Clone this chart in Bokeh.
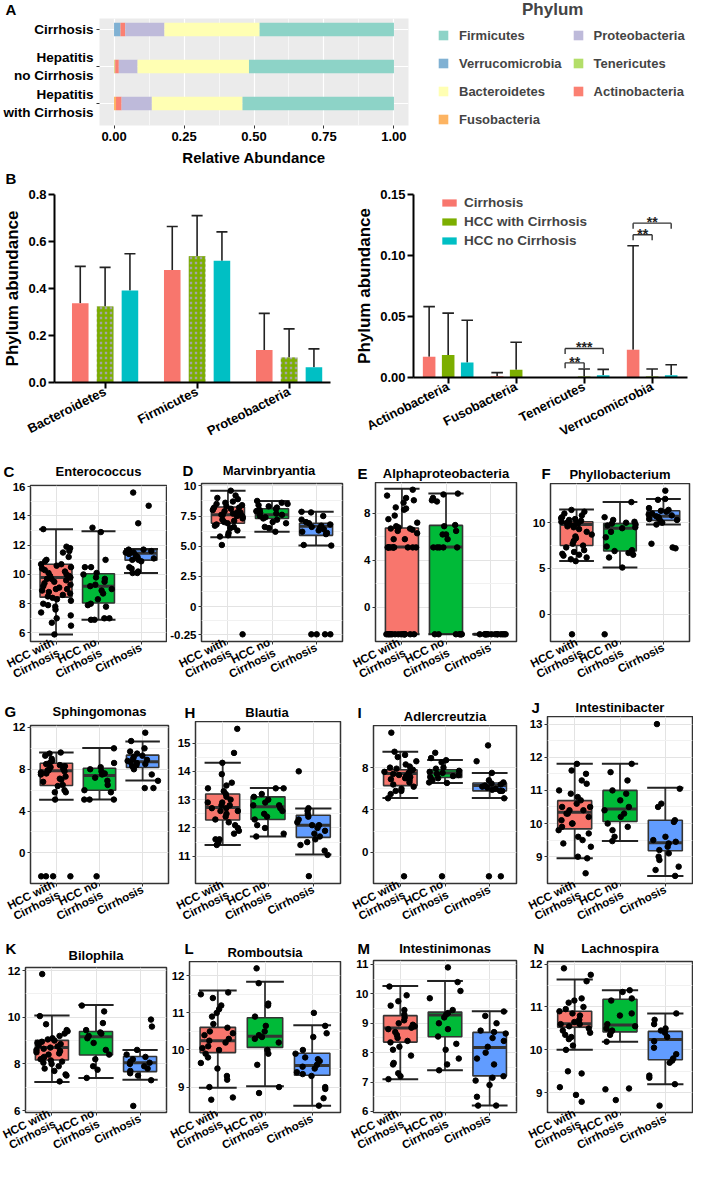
import math
from bokeh.plotting import figure
from bokeh.models import (ColumnDataSource, FixedTicker, Legend, LegendItem, Range1d,
                          NumeralTickFormatter)
from bokeh.layouts import column, row
from bokeh.transform import jitter
from bokeh.embed import file_html
from bokeh.resources import INLINE
from bokeh.core.properties import value

FONT = "Liberation Sans"
PAGE_W, PAGE_H = 693, 1168
REF_W, REF_H = 709, 1184

# ---------------- DATA ----------------
groups_A = ["Cirrhosis", "Hepatitis\nno Cirrhosis", "Hepatitis\nwith Cirrhosis"]
phyla_stack = ["Fusobacteria", "Tenericutes", "Verrucomicrobia", "Actinobacteria",
               "Proteobacteria", "Bacteroidetes", "Firmicutes"]
legend_order_A = ["Firmicutes", "Verrucomicrobia", "Bacteroidetes", "Fusobacteria",
                  "Proteobacteria", "Tenericutes", "Actinobacteria"]
fusobacteria_A = [0.000, 0.002, 0.007]
tenericutes_A = [0.000, 0.002, 0.000]
verrucomicrobia_A = [0.023, 0.000, 0.000]
actinobacteria_A = [0.017, 0.013, 0.020]
proteobacteria_A = [0.140, 0.067, 0.108]
bacteroidetes_A = [0.340, 0.398, 0.324]
firmicutes_A = [0.480, 0.518, 0.541]
phylum_colors = {"Firmicutes": "#8DD3C7", "Verrucomicrobia": "#80B1D3",
                 "Bacteroidetes": "#FFFFB3", "Fusobacteria": "#FDB462",
                 "Proteobacteria": "#BEBADA", "Tenericutes": "#B3DE69",
                 "Actinobacteria": "#FB8072"}
A_ticks = [0.0, 0.25, 0.5, 0.75, 1.0]

groups_B = ["Cirrhosis", "HCC with Cirrhosis", "HCC no Cirrhosis"]
phyla_B1 = ["Bacteroidetes", "Firmicutes", "Proteobacteria"]
b1_cirr_mean = [0.337, 0.479, 0.138]
b1_cirr_sd = [0.157, 0.185, 0.156]
b1_hccw_mean = [0.323, 0.537, 0.106]
b1_hccw_sd = [0.167, 0.173, 0.122]
b1_hccn_mean = [0.392, 0.518, 0.065]
b1_hccn_sd = [0.156, 0.123, 0.078]
phyla_B2 = ["Actinobacteria", "Fusobacteria", "Tenericutes", "Verrucomicrobia"]
b2_cirr_mean = [0.0171, 0.0010, 0.0000, 0.0228]
b2_cirr_sd = [0.0410, 0.0030, 0.0000, 0.0852]
b2_hccw_mean = [0.0185, 0.0064, 0.0008, 0.0008]
b2_hccw_sd = [0.0343, 0.0225, 0.0062, 0.0062]
b2_hccn_mean = [0.0123, 0.0000, 0.0019, 0.0019]
b2_hccn_sd = [0.0346, 0.0000, 0.0048, 0.0085]
B1_ticks = [0.0, 0.2, 0.4, 0.6, 0.8]
B2_ticks = [0.0, 0.05, 0.10, 0.15]
sig_phylum = ["Tenericutes", "Tenericutes", "Verrucomicrobia", "Verrucomicrobia"]
sig_from = ["Cirrhosis", "Cirrhosis", "Cirrhosis", "Cirrhosis"]
sig_to = ["HCC with Cirrhosis", "HCC no Cirrhosis", "HCC with Cirrhosis", "HCC no Cirrhosis"]
sig_y = [0.0120, 0.0238, 0.1170, 0.1265]
sig_text = ["**", "***", "**", "**"]

box_groups = ["HCC with\nCirrhosis", "HCC no\nCirrhosis", "Cirrhosis"]
box_colors = ["#F8766D", "#00BA38", "#619CFF"]

ent_hwc = [13.1, 11.9, 11.8, 11.6, 11.5, 11.2, 11.0, 10.9, 10.7, 10.7, 10.6, 10.5, 10.4, 10.3, 10.2,
           10.1, 10.0, 9.9, 9.9, 9.8, 9.8, 9.7, 9.7, 9.6, 9.5, 9.4, 9.3, 9.2, 9.1, 9.0, 9.0, 8.9,
           8.8, 8.7, 8.6, 8.5, 8.4, 8.3, 8.2, 8.0, 7.9, 7.8, 7.6, 7.4, 7.2, 7.0, 6.7, 6.5, 5.9]
ent_hnc = [13.2, 12.9, 11.0, 10.5, 10.5, 10.1, 10.0, 9.8, 9.7, 9.5, 9.3, 9.2, 9.0, 8.9, 8.7, 8.3,
           8.0, 7.9, 7.8, 7.0, 7.0, 6.9, 6.9]
ent_cir = [15.6, 14.7, 13.5, 11.7, 11.7, 11.6, 11.6, 11.5, 11.5, 11.4, 11.3, 11.2, 11.1, 11.0, 11.0,
           10.9, 10.5, 10.4, 10.2, 10.1, 10.1]
ent_box = [[5.9, 8.45, 9.8, 10.7, 13.1], [6.9, 8.05, 9.2, 10.05, 12.95], [10.1, 10.98, 11.45, 11.7, 11.75]]

mar_hwc = [9.6, 9.2, 9.0, 8.9, 8.7, 8.6, 8.5, 8.4, 8.3, 8.2, 8.2, 8.1, 8.0, 7.9, 7.8, 7.8, 7.7, 7.6,
           7.6, 7.5, 7.5, 7.4, 7.3, 7.2, 7.1, 7.0, 6.9, 6.8, 6.7, 6.6, 6.5, 6.3, 6.1, 5.9, 5.8, 5.1, -2.3]
mar_hnc = [8.75, 8.6, 8.5, 8.4, 8.3, 8.2, 8.1, 8.0, 7.9, 7.8, 7.7, 7.6, 7.5, 7.4, 7.3, 7.2, 7.0,
           6.9, 6.6, 6.5, 6.2]
mar_cir = [7.85, 7.8, 7.5, 7.2, 7.0, 6.9, 6.8, 6.7, 6.6, 6.5, 6.4, 6.3, 6.2, 6.1, 6.0, 5.1, 5.05,
           -2.3, -2.3, -2.3, -2.3]
mar_box = [[5.75, 6.9, 7.6, 8.25, 9.6], [6.2, 7.3, 7.6, 8.1, 8.75], [5.05, 5.9, 6.65, 6.9, 7.85]]

alp_hwc = [10.0, 9.5, 9.3, 9.1, 8.9, 8.5, 8.4, 8.3, 7.8, 7.5, 7.2, 6.9, 6.8, 6.7, 6.7, 6.6, 6.5,
           6.3, 5.8, 5.8, 5.1, 5.1, 5.1, 5.1, 5.1, 5.1, 5.1, 5.1, 5.1, 5.1, -2.28, -2.28, -2.28,
           -2.28, -2.28, -2.28, -2.28, -2.28, -2.28, -2.28, -2.28, -2.28, -2.28, -2.28]
alp_hnc = [9.67, 9.6, 9.3, 9.1, 9.0, 7.0, 6.9, 6.5, 6.2, 6.2, 5.8, 5.1, 5.1, 5.1, 5.1, 5.1,
           -2.28, -2.28, -2.28, -2.28, -2.28, -2.28, -2.28]
alp_cir = [-2.28, -2.28, -2.28, -2.28, -2.28, -2.28, -2.28, -2.28, -2.28, -2.28, -2.28, -2.28,
           -2.28, -2.28]
alp_box = [[-2.28, -2.28, 5.14, 6.75, 10.08], [-2.28, -2.28, 5.14, 6.97, 9.67], [-2.28, -2.28, -2.28, -2.28, -2.28]]

phy_hwc = [11.4, 11.2, 11.0, 10.8, 10.6, 10.5, 10.4, 10.3, 10.2, 10.1, 10.0, 10.0, 9.9, 9.8, 9.7,
           9.6, 9.5, 9.3, 9.0, 8.7, 8.5, 8.3, 8.0, 7.7, 7.5, 7.3, 7.0, 6.8, 6.6, 6.5, 6.4, 6.2, 6.0,
           5.8, -2.2]
phy_hnc = [12.25, 10.6, 10.3, 10.1, 10.0, 9.9, 9.8, 9.7, 9.5, 9.4, 9.0, 8.4, 7.4, 7.0, 6.9, 6.7,
           6.5, 6.2, 5.1, -2.2]
phy_cir = [13.5, 12.6, 12.5, 11.6, 11.4, 11.3, 11.2, 11.0, 10.9, 10.8, 10.7, 10.6, 10.5, 10.4,
           10.3, 10.2, 10.0, 9.8, 7.7, 7.3, 7.2]
phy_box = [[5.82, 7.5, 9.8, 10.1, 11.43], [5.1, 6.9, 9.4, 9.9, 12.25], [9.8, 10.25, 10.7, 11.3, 12.6]]

sph_hwc = [9.6, 9.5, 9.3, 9.0, 8.8, 8.6, 8.5, 8.4, 8.3, 8.2, 8.1, 8.0, 7.9, 7.9, 7.8, 7.7, 7.6,
           7.5, 7.3, 7.1, 7.0, 6.8, 6.5, 6.4, 6.0, 5.8, 5.8, 5.1, -2.24, -2.24, -2.24, -2.24]
sph_hnc = [10.0, 8.6, 8.2, 8.0, 7.8, 7.6, 7.5, 7.2, 6.9, 6.5, 6.0, 5.8, 5.1, 5.1, 5.1, -2.24]
sph_cir = [11.5, 10.7, 10.0, 9.7, 9.5, 9.3, 9.2, 9.0, 8.9, 8.8, 8.7, 8.6, 8.5, 8.4, 8.3, 8.0, 7.5,
           6.9, 6.2, 6.2]
sph_box = [[5.08, 6.45, 7.86, 8.57, 9.6], [5.1, 6.0, 7.4, 8.1, 10.04], [6.92, 8.17, 8.73, 9.35, 10.66]]

bla_hwc = [15.5, 14.65, 14.3, 13.9, 13.6, 13.5, 13.4, 13.3, 13.2, 13.1, 13.0, 12.9, 12.9, 12.8,
           12.8, 12.7, 12.7, 12.6, 12.6, 12.5, 12.4, 12.3, 12.2, 12.1, 12.0, 11.9, 11.8, 11.6,
           11.6, 11.5, 11.4]
bla_hnc = [13.4, 13.4, 13.2, 13.1, 13.0, 12.9, 12.8, 12.8, 12.7, 12.6, 12.5, 12.4, 12.3, 12.1,
           12.0, 11.8, 11.7]
bla_cir = [14.0, 12.7, 12.6, 12.5, 12.4, 12.3, 12.2, 12.1, 12.1, 12.0, 11.9, 11.8, 11.7, 11.6,
           11.5, 11.4, 11.2, 11.05, 10.3]
bla_box = [[11.4, 12.28, 12.72, 13.2, 14.3], [11.7, 12.3, 12.75, 13.1, 13.41], [11.06, 11.67, 12.1, 12.45, 12.69]]

adl_hwc = [11.3, 9.5, 9.2, 9.0, 8.6, 8.3, 8.1, 8.0, 7.9, 7.8, 7.7, 7.6, 7.5, 7.4, 7.3, 7.2, 7.1,
           7.0, 6.9, 6.8, 6.6, 6.4, 6.2, 6.0, 5.8, 5.8, 5.5, 5.1, -2.27]
adl_hnc = [9.4, 8.9, 8.7, 8.5, 8.0, 7.9, 7.7, 7.6, 7.5, 7.4, 7.3, 7.2, 7.1, 7.0, 6.8, 6.6, 6.55, -2.27]
adl_cir = [10.1, 8.6, 7.5, 6.8, 6.6, 6.5, 6.4, 6.3, 6.2, 6.1, 6.0, 5.9, 5.8, 5.8, 5.1, -2.27, -2.27]
adl_box = [[5.13, 6.3, 7.45, 7.8, 9.5], [6.55, 7.06, 7.5, 7.8, 8.72], [5.13, 5.8, 6.3, 6.55, 7.5]]

inb_hwc = [11.8, 11.6, 11.5, 11.3, 11.2, 11.0, 10.9, 10.8, 10.7, 10.6, 10.5, 10.5, 10.4, 10.4,
           10.3, 10.3, 10.2, 10.1, 10.0, 10.0, 9.9, 9.8, 9.7, 9.6, 9.5, 9.4, 9.3, 9.0, 8.95, 8.5]
inb_hnc = [11.8, 11.55, 11.3, 11.0, 10.9, 10.7, 10.5, 10.4, 10.3, 10.2, 10.0, 9.9, 9.8, 9.6, 9.47]
inb_cir = [13.0, 11.05, 10.6, 10.5, 10.1, 10.05, 9.6, 9.5, 9.45, 9.4, 9.3, 9.2, 9.1, 9.0, 8.9,
           8.7, 8.6, 8.42]
inb_box = [[8.95, 9.84, 10.34, 10.69, 11.8], [9.47, 10.06, 10.44, 11.0, 11.8], [8.42, 9.18, 9.42, 10.1, 11.08]]

bil_hwc = [11.85, 10.05, 9.7, 9.45, 9.4, 9.3, 9.2, 9.1, 9.05, 9.0, 8.95, 8.9, 8.85, 8.8, 8.75,
           8.7, 8.65, 8.6, 8.55, 8.5, 8.45, 8.4, 8.3, 8.25, 8.2, 8.15, 8.1, 8.05, 8.0, 7.9, 7.8,
           7.7, 7.55, 7.5, 7.25]
bil_hnc = [10.5, 10.25, 9.75, 9.45, 9.35, 9.3, 9.2, 9.1, 8.9, 8.6, 8.4, 8.2, 7.9, 7.75, 7.4]
bil_cir = [9.9, 9.6, 8.6, 8.4, 8.3, 8.2, 8.1, 8.05, 8.0, 7.9, 7.8, 7.7, 7.6, 7.5, 7.3, 6.2]
bil_box = [[7.23, 8.17, 8.7, 9.01, 10.08], [7.4, 8.38, 9.16, 9.39, 10.52], [7.32, 7.67, 8.05, 8.32, 8.6]]

rom_hwc = [11.55, 11.5, 11.4, 11.2, 11.1, 11.0, 10.9, 10.7, 10.6, 10.5, 10.45, 10.4, 10.3, 10.25,
           10.2, 10.1, 10.05, 10.0, 9.9, 9.8, 9.65, 9.5, 9.3, 9.2, 9.0, 8.72, 8.66]
rom_hnc = [12.2, 11.8, 11.25, 11.2, 10.9, 10.65, 10.5, 10.4, 10.35, 10.3, 10.2, 10.0, 9.9, 9.6,
           9.0, 8.84]
rom_cir = [11.0, 10.65, 10.45, 10.35, 10.0, 9.9, 9.8, 9.75, 9.7, 9.6, 9.55, 9.5, 9.4, 9.35, 9.3,
           9.0, 8.95, 8.7, 8.5]
rom_box = [[8.98, 9.93, 10.25, 10.61, 11.6], [9.02, 10.07, 10.37, 10.87, 11.84], [8.5, 9.32, 9.58, 9.91, 10.67]]

inm_hwc = [10.25, 9.95, 9.75, 9.6, 9.45, 9.3, 9.2, 9.1, 9.0, 8.95, 8.9, 8.85, 8.8, 8.7, 8.6, 8.5,
           8.4, 8.35, 8.2, 8.1, 7.9, 7.65, 7.6, 7.3, 7.2, 7.1]
inm_hnc = [10.9, 10.4, 10.1, 9.85, 9.45, 9.35, 9.3, 9.2, 9.0, 8.8, 8.55, 8.3, 8.1, 7.8, 7.6, 7.4]
inm_cir = [9.4, 9.25, 9.0, 8.75, 8.7, 8.65, 8.5, 8.4, 8.2, 8.0, 7.8, 7.6, 7.2, 7.15, 7.05, 6.9,
           6.5, 6.2, 6.2]
inm_box = [[7.1, 8.36, 8.84, 9.26, 10.27], [7.4, 8.54, 9.28, 9.38, 10.44], [6.2, 7.21, 8.18, 8.69, 9.41]]

lac_hwc = [11.9, 11.75, 11.6, 11.2, 11.15, 11.1, 11.0, 10.95, 10.9, 10.85, 10.8, 10.7, 10.65,
           10.6, 10.6, 10.55, 10.5, 10.45, 10.4, 10.35, 10.3, 10.25, 10.1, 10.0, 9.5, 9.45, 9.13,
           8.95, 8.79]
lac_hnc = [11.39, 11.35, 11.2, 11.15, 10.85, 10.8, 10.6, 10.55, 10.5, 10.45, 10.42, 10.35, 10.19,
           9.1, 9.08, 8.83]
lac_cir = [10.85, 10.7, 10.6, 10.5, 10.45, 10.4, 10.3, 10.2, 10.05, 9.9, 9.8, 9.75, 9.7, 9.4,
           9.35, 9.2, 8.7]
lac_box = [[10.0, 10.53, 10.61, 10.9, 11.64], [10.19, 10.42, 10.58, 11.18, 11.39], [9.2, 9.77, 10.24, 10.43, 10.85]]

ticks_C = [6, 8, 10, 12, 14, 16]
ticks_D = [-2.35, 0, 2.5, 5, 7.5, 10]
labels_D = ["-0.25", "0", "2.5", "5.0", "7.5", "10"]
ticks_E = [0, 4, 8]
ticks_F = [0, 5, 10]
ticks_G = [0, 4, 8, 12]
ticks_H = [11, 12, 13, 14, 15]
ticks_I = [0, 4, 8]
ticks_J = [9, 10, 11, 12, 13]
ticks_K = [6, 8, 10, 12]
ticks_L = [9, 10, 11, 12]
ticks_M = [6, 7, 8, 9, 10, 11]
ticks_N = [9, 10, 11, 12]


# ---------------- HELPERS ----------------
def SX(v):
    return int(round(v * PAGE_W / REF_W))


def SY(v):
    return int(round(v * PAGE_H / REF_H))


def base_fig(width, height, left, right, top, bottom, x_range, y_range):
    p = figure(width=width, height=height, x_range=x_range, y_range=y_range,
               output_backend="svg", toolbar_location=None,
               min_border_left=left, min_border_right=right,
               min_border_top=top, min_border_bottom=bottom)
    p.frame_align = False
    p.border_fill_color = "white"
    return p


def header_fig(width, height, x_range=None, y_range=None):
    h = figure(width=width, height=height,
               x_range=x_range if x_range is not None else Range1d(0, width),
               y_range=y_range if y_range is not None else Range1d(height, 0),
               output_backend="svg", toolbar_location=None, x_axis_location=None,
               y_axis_location=None, min_border_left=0, min_border_right=0,
               min_border_top=0, min_border_bottom=0)
    h.frame_align = False
    h.outline_line_color = None
    h.border_fill_color = "white"
    h.background_fill_color = "white"
    h.grid.visible = False
    return h


def put_text(h, x, baseline, text, size_px, align):
    # text is vertically centred; place its centre ~0.35 em above the wanted baseline
    h.text(x=[x], y=[baseline - 0.35 * size_px], text=[text], text_font=value(FONT),
           text_font_style="bold", text_font_size=f"{size_px}px", text_align=align,
           text_baseline="middle", text_color="black")


def style_axis(ax, size, tick_out=3, tick_w=1, tick_color="#333333"):
    ax.major_label_text_font = FONT
    ax.major_label_text_font_style = "bold"
    ax.major_label_text_font_size = size
    ax.major_label_text_color = "black"
    ax.major_tick_in = 0
    ax.major_tick_out = tick_out
    ax.major_tick_line_color = tick_color
    ax.major_tick_line_width = tick_w
    ax.minor_tick_line_color = None
    ax.axis_label_text_font = FONT
    ax.axis_label_text_font_style = "bold"
    ax.axis_label_text_color = "black"


# ---------------- PANEL A ----------------
A_H = 169
A_HEAD = 18
A_LEFT_W = SX(447)
nA = len(groups_A)
srcA = ColumnDataSource(dict(
    y=[nA - i for i in range(nA)],
    Fusobacteria=fusobacteria_A, Tenericutes=tenericutes_A, Verrucomicrobia=verrucomicrobia_A,
    Actinobacteria=actinobacteria_A, Proteobacteria=proteobacteria_A,
    Bacteroidetes=bacteroidetes_A, Firmicutes=firmicutes_A))
unitA = (SY(104) - SY(29)) / 2.0
yA_end = nA + (SY(29) - A_HEAD) / unitA
yA_start = 1 - (SY(127) - SY(104)) / unitA
hdrA = header_fig(A_LEFT_W, A_HEAD)
put_text(hdrA, SX(5), 14.3, "A", 15, "left")
pA = base_fig(A_LEFT_W, A_H - A_HEAD, SX(99), A_LEFT_W - SX(417), 0, A_H - SY(127),
              Range1d(-0.052, 1.052), Range1d(yA_start, yA_end))
pA.background_fill_color = "#EBEBEB"
pA.outline_line_color = None
pA.hbar_stack(phyla_stack, y="y", height=0.37, color=[phylum_colors[k] for k in phyla_stack],
              line_color=None, source=srcA)
minorA = [(a + b) / 2 for a, b in zip(A_ticks[:-1], A_ticks[1:])]
pA.xaxis.ticker = FixedTicker(ticks=A_ticks)
pA.xgrid.ticker = FixedTicker(ticks=A_ticks, minor_ticks=minorA)
pA.xgrid.grid_line_color = "white"
pA.xgrid.grid_line_width = 1.2
pA.xgrid.minor_grid_line_color = "white"
pA.xgrid.minor_grid_line_width = 0.6
pA.yaxis.ticker = FixedTicker(ticks=[nA - i for i in range(nA)])
pA.ygrid.ticker = FixedTicker(ticks=[nA - i for i in range(nA)])
pA.ygrid.grid_line_color = "white"
pA.ygrid.grid_line_width = 1.2
pA.xaxis.formatter = NumeralTickFormatter(format="0.00")
pA.yaxis.major_label_overrides = {nA - i: g for i, g in enumerate(groups_A)}
for ax in (pA.xaxis, pA.yaxis):
    ax.axis_line_color = None
style_axis(pA.xaxis, "13px")
style_axis(pA.yaxis, "13.5px")
pA.xaxis.major_label_standoff = 3
pA.yaxis.major_label_standoff = 3
pA.xaxis.axis_label = "Relative Abundance"
pA.xaxis.axis_label_text_font_size = "15px"
pA.xaxis.axis_label_standoff = 5

# legend of panel A: keys drawn from the same stacked bars, kept out of this strip's view
lf = header_fig(PAGE_W - A_LEFT_W, A_H, x_range=Range1d(2, 3), y_range=Range1d(10, 11))
keysA = lf.hbar_stack(phyla_stack, y="y", height=0.37,
                      color=[phylum_colors[k] for k in phyla_stack], line_color=None, source=srcA)
key_by_name = dict(zip(phyla_stack, keysA))
legA = Legend(items=[LegendItem(label=n, renderers=[key_by_name[n]]) for n in legend_order_A],
              location="top_left", ncols=2,
              title="\u00a0" * 18 + "Phylum", title_text_font=FONT, title_text_font_style="bold",
              title_text_font_size="17px", title_standoff=6,
              label_text_font=FONT, label_text_font_style="bold", label_text_font_size="13px",
              glyph_width=12, glyph_height=12, label_height=18, spacing=10, label_standoff=10,
              padding=0, margin=0, border_line_color=None, background_fill_alpha=0)
lf.add_layout(legA)
blockA = row(column(hdrA, pA), lf)

# ---------------- PANEL B ----------------
B_TOP, B_BOT, B_HEAD = A_H, 455, 18
B_FIG_H = B_BOT - B_TOP - B_HEAD


def bar_panel(cell_x, frame_x, frame_y, x_range, y_range, phyla, means, sds, ticks, fmt,
              offset, width, cap, hatch_mid):
    w = SX(cell_x[1]) - SX(cell_x[0])
    p = base_fig(w, B_FIG_H, SX(frame_x[0]) - SX(cell_x[0]), SX(cell_x[1]) - SX(frame_x[1]),
                 SY(frame_y[0]) - B_TOP - B_HEAD, B_BOT - SY(frame_y[1]), x_range, y_range)
    p.outline_line_color = None
    p.xgrid.grid_line_color = None
    p.ygrid.grid_line_color = None
    xs = [i + 1 for i in range(len(phyla))]
    offs = [-offset, 0.0, offset]
    colors = ["#F8766D", "#7CAE00", "#00BFC4"]
    rends = []
    for k, g in enumerate(groups_B):
        xk = [x + offs[k] for x in xs]
        kw = dict(fill_color=colors[k], line_color=None)
        if k == 1 and hatch_mid:
            kw = dict(fill_color="#A3A3A3", hatch_pattern="+", hatch_color="#7CAE00",
                      hatch_scale=5, hatch_weight=2.6, line_color=None)
        top_err = [m + s for m, s in zip(means[k], sds[k])]
        keep = [i for i in range(len(xs)) if sds[k][i] > 0]
        p.segment(x0=[xk[i] for i in keep], y0=[means[k][i] for i in keep],
                  x1=[xk[i] for i in keep], y1=[top_err[i] for i in keep],
                  line_color="#222222", line_width=1.6)
        p.segment(x0=[xk[i] - cap for i in keep], y0=[top_err[i] for i in keep],
                  x1=[xk[i] + cap for i in keep], y1=[top_err[i] for i in keep],
                  line_color="#222222", line_width=1.6)
        rends.append(p.vbar(x=xk, top=means[k], bottom=0, width=width, **kw))
    p.xaxis.ticker = FixedTicker(ticks=xs)
    p.xaxis.major_label_overrides = {x: n for x, n in zip(xs, phyla)}
    p.xaxis.major_label_orientation = 0.47
    p.yaxis.ticker = FixedTicker(ticks=ticks)
    p.yaxis.formatter = NumeralTickFormatter(format=fmt)
    for ax in (p.xaxis, p.yaxis):
        ax.axis_line_color = "black"
        ax.axis_line_width = 2
        style_axis(ax, "13px", tick_out=6, tick_w=2, tick_color="black")
        ax.major_label_standoff = 2
    p.xaxis.major_label_text_font_size = "13px"
    p.yaxis.axis_label = "Phylum abundance"
    p.yaxis.axis_label_text_font_size = "17px"
    p.yaxis.axis_label_standoff = 3
    return p, rends, xs, offs


hdrB = header_fig(PAGE_W, B_HEAD)
put_text(hdrB, SX(5), 14.3, "B", 15, "left")
pB1, _, _, _ = bar_panel((0, 360), (50, 338), (197, 387), Range1d(0.45, 3.45), Range1d(0, 0.8),
                         phyla_B1, [b1_cirr_mean, b1_hccw_mean, b1_hccn_mean],
                         [b1_cirr_sd, b1_hccw_sd, b1_hccn_sd], B1_ticks, "0.0",
                         0.27, 0.18, 0.06, True)
pB2, rendsB2, xsB2, offsB2 = bar_panel((360, 709), (420, 703), (197, 382), Range1d(0.49, 4.52),
                                       Range1d(0, 0.15), phyla_B2,
                                       [b2_cirr_mean, b2_hccw_mean, b2_hccn_mean],
                                       [b2_cirr_sd, b2_hccw_sd, b2_hccn_sd], B2_ticks, "0.00",
                                       0.28, 0.185, 0.085, False)
drop = 0.0045
for ph, ga, gb, yv, tx in zip(sig_phylum, sig_from, sig_to, sig_y, sig_text):
    xc = xsB2[phyla_B2.index(ph)]
    xa = xc + offsB2[groups_B.index(ga)]
    xb = xc + offsB2[groups_B.index(gb)]
    pB2.segment(x0=[xa, xa, xb], y0=[yv - drop, yv, yv], x1=[xa, xb, xb], y1=[yv, yv, yv - drop],
                line_color="#333333", line_width=1.4)
    pB2.text(x=[(xa + xb) / 2], y=[yv], text=[tx], text_font=value(FONT), text_font_style="bold",
             text_font_size="14px", text_align="center", text_baseline="middle",
             text_color="#222222", y_offset=-1)
frameB2_h = SY(382) - SY(197)
legB = Legend(items=[LegendItem(label=g, renderers=[r]) for g, r in zip(groups_B, rendsB2)],
              location=(SX(448) - SX(420), frameB2_h - 1 - (3 * 15 + 2 * 4)),
              label_text_font=FONT, label_text_font_style="bold", label_text_font_size="13.5px",
              glyph_width=18, glyph_height=9, label_height=15, spacing=4, label_standoff=6,
              padding=0, margin=0, border_line_color=None, background_fill_alpha=0)
pB2.add_layout(legB)
blockB = column(hdrB, row(pB1, pB2))

# ---------------- PANELS C-N ----------------
LABEL_EXT = 56


def box_panel(title, let, let_x, let_base_ref, cell_x, frame_x, frame_top_ref, blk, pts, stats,
              ticks, tick_labels=None):
    bt, bb = blk
    cx0, cx1 = SX(cell_x[0]), SX(cell_x[1])
    w = cx1 - cx0
    ftop = SY(frame_top_ref)
    fbot = bb - LABEL_EXT
    allv = [v for g in pts for v in g]
    lo, hi = min(allv), max(allv)
    pad = 0.05 * (hi - lo)
    y0, y1 = lo - pad, hi + pad
    gap = (y1 - max(ticks)) / (y1 - y0) * (fbot - ftop)
    tb = max(0, int(math.ceil(6 - gap)))
    hh = ftop - bt - tb
    hdr = header_fig(w, hh)
    lb = max(14.5, min(SY(let_base_ref) - bt, hh - 4))
    put_text(hdr, SX(let_x) - cx0, lb, let, 15, "left")
    put_text(hdr, (SX(frame_x[0]) + SX(frame_x[1])) / 2 - cx0, hh - 4, title, 13, "center")

    p = base_fig(w, bb - bt - hh, SX(frame_x[0]) - cx0, cx1 - SX(frame_x[1]), tb, LABEL_EXT,
                 Range1d(0.4, 3.6), Range1d(y0, y1))
    p.outline_line_color = "#333333"
    p.outline_line_width = 1.5
    minor = [(a + b) / 2 for a, b in zip(ticks[:-1], ticks[1:])]
    xs = [i + 1 for i in range(len(box_groups))]
    p.ygrid.ticker = FixedTicker(ticks=ticks, minor_ticks=minor)
    p.ygrid.grid_line_color = "#E3E3E3"
    p.ygrid.minor_grid_line_color = "#F1F1F1"
    p.xgrid.ticker = FixedTicker(ticks=xs)
    p.xgrid.grid_line_color = "#E3E3E3"
    lower = [s[0] for s in stats]
    q1 = [s[1] for s in stats]
    med = [s[2] for s in stats]
    q3 = [s[3] for s in stats]
    upper = [s[4] for s in stats]
    hb, hc = 0.375, 0.4
    p.segment(x0=xs, y0=lower, x1=xs, y1=upper, line_color="#333333", line_width=1.8)
    p.vbar(x=xs, width=2 * hb, bottom=q1, top=q3, fill_color=box_colors, line_color="#333333",
           line_width=1.6)
    p.segment(x0=[x - hb for x in xs], y0=med, x1=[x + hb for x in xs], y1=med,
              line_color="#333333", line_width=3)
    for yy in (lower, upper):
        p.segment(x0=[x - hc for x in xs], y0=yy, x1=[x + hc for x in xs], y1=yy,
                  line_color="#222222", line_width=2)
    px = [xs[k] for k, g in enumerate(pts) for _ in g]
    src = ColumnDataSource(dict(x=px, y=allv))
    p.scatter(x=jitter("x", width=0.72, range=p.x_range), y="y", size=5.5, color="black",
              source=src)
    p.xaxis.ticker = FixedTicker(ticks=xs)
    p.xaxis.major_label_overrides = {x: g for x, g in zip(xs, box_groups)}
    p.xaxis.major_label_orientation = 0.47
    p.xaxis.major_label_text_line_height = 1.0
    p.yaxis.ticker = FixedTicker(ticks=ticks)
    if tick_labels:
        p.yaxis.major_label_overrides = {t: l for t, l in zip(ticks, tick_labels)}
    for ax in (p.xaxis, p.yaxis):
        ax.axis_line_color = None
        style_axis(ax, "11.5px", tick_out=3)
        ax.major_label_standoff = 2
    p.xaxis.major_label_text_font_size = "11.5px"
    return column(hdr, p)


R1, R2, R3 = (455, 697), (697, 939), (939, 1168)
cC = box_panel("Enterococcus", "C", 3, 485, (0, 171), (31, 170), 492, R1,
               [ent_hwc, ent_hnc, ent_cir], ent_box, ticks_C)
cD = box_panel("Marvinbryantia", "D", 186, 485, (171, 356), (199, 350), 490, R1,
               [mar_hwc, mar_hnc, mar_cir], mar_box, ticks_D, labels_D)
cE = box_panel("Alphaproteobacteria", "E", 365, 485, (356, 540), (384, 528), 489, R1,
               [alp_hwc, alp_hnc, alp_cir], alp_box, ticks_E)
cF = box_panel("Phyllobacterium", "F", 553, 485, (540, 709), (563, 705), 490, R1,
               [phy_hwc, phy_hnc, phy_cir], phy_box, ticks_F)
cG = box_panel("Sphingomonas", "G", 4, 727, (0, 178), (31, 172), 735, R2,
               [sph_hwc, sph_hnc, sph_cir], sph_box, ticks_G)
cH = box_panel("Blautia", "H", 188, 727, (178, 358), (197, 348), 731, R2,
               [bla_hwc, bla_hnc, bla_cir], bla_box, ticks_H)
cI = box_panel("Adlercreutzia", "I", 365, 727, (358, 538), (382, 528), 735, R2,
               [adl_hwc, adl_hnc, adl_cir], adl_box, ticks_I)
cJ = box_panel("Intestinibacter", "J", 543, 725, (538, 709), (560, 708), 726, R2,
               [inb_hwc, inb_hnc, inb_cir], inb_box, ticks_J)
cK = box_panel("Bilophila", "K", 5, 966, (0, 172), (26, 170), 980, R3,
               [bil_hwc, bil_hnc, bil_cir], bil_box, ticks_K)
cL = box_panel("Romboutsia", "L", 188, 965, (172, 356), (193, 348), 974, R3,
               [rom_hwc, rom_hnc, rom_cir], rom_box, ticks_L)
cM = box_panel("Intestinimonas", "M", 365, 966, (356, 538), (382, 528), 973, R3,
               [inm_hwc, inm_hnc, inm_cir], inm_box, ticks_M)
cN = box_panel("Lachnospira", "N", 545, 966, (538, 709), (560, 708), 974, R3,
               [lac_hwc, lac_hnc, lac_cir], lac_box, ticks_N)

layout = column(blockA, blockB, row(cC, cD, cE, cF), row(cG, cH, cI, cJ), row(cK, cL, cM, cN))
open("out.html", "w").write(file_html(layout, INLINE))
